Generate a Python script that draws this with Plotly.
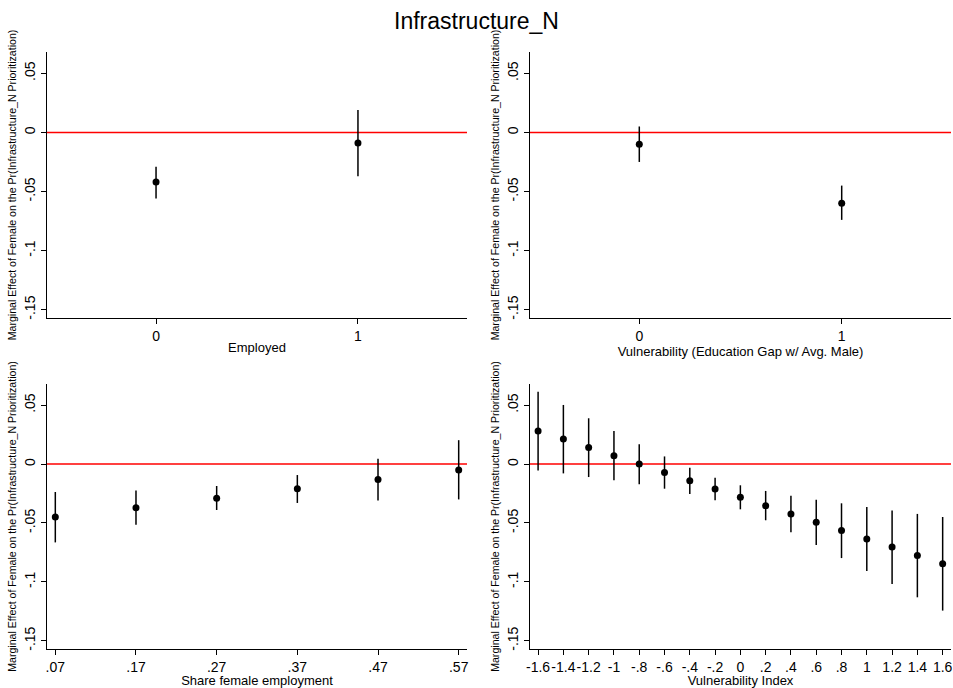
import plotly.graph_objects as go
from plotly.subplots import make_subplots

# ---- data ----
emp_x = [0, 1]
emp_y = [-0.042, -0.009]
emp_lo = [-0.056, -0.037]
emp_hi = [-0.029, 0.019]

vul_x = [0, 1]
vul_y = [-0.010, -0.060]
vul_lo = [-0.025, -0.074]
vul_hi = [0.005, -0.045]

share_x = [0.07, 0.17, 0.27, 0.37, 0.47, 0.57]
share_y = [-0.045, -0.037, -0.029, -0.021, -0.013, -0.005]
share_lo = [-0.0665, -0.0515, -0.039, -0.033, -0.031, -0.030]
share_hi = [-0.0237, -0.0225, -0.0186, -0.0093, 0.0045, 0.0203]
share_ticks = [".07", ".17", ".27", ".37", ".47", ".57"]

vi_x = [-1.6, -1.4, -1.2, -1.0, -0.8, -0.6, -0.4, -0.2, 0.0, 0.2, 0.4, 0.6, 0.8, 1.0, 1.2, 1.4, 1.6]
vi_y = [0.0282, 0.0212, 0.0141, 0.0071, 0.0, -0.0071, -0.0141, -0.0212, -0.0282,
        -0.0353, -0.0423, -0.0494, -0.0564, -0.0635, -0.0705, -0.0776, -0.0846]
vi_lo = [-0.0054, -0.0079, -0.011, -0.0138, -0.0172, -0.0209, -0.0254, -0.0307, -0.0384,
         -0.0477, -0.0578, -0.0688, -0.0798, -0.0908, -0.1018, -0.1131, -0.1244]
vi_hi = [0.0615, 0.0502, 0.0389, 0.0282, 0.0169, 0.0065, -0.0031, -0.0116, -0.018,
         -0.0228, -0.0268, -0.0302, -0.0333, -0.0364, -0.0395, -0.0423, -0.0449]
vi_ticks = ["-1.6", "-1.4", "-1.2", "-1", "-.8", "-.6", "-.4", "-.2", "0",
            ".2", ".4", ".6", ".8", "1", "1.2", "1.4", "1.6"]

y_tickvals = [0.05, 0, -0.05, -0.1, -0.15]
y_ticktext = [".05", "0", "-.05", "-.1", "-.15"]

title_text = "Infrastructure_N"
ytitle = "Marginal Effect of Female on the Pr(Infrastructure_N Prioritization)"
xtitles = ["Employed", "Vulnerability (Education Gap w/ Avg. Male)",
           "Share female employment", "Vulnerability Index"]

FONT = "Liberation Sans, Arial, Helvetica, sans-serif"

fig = make_subplots(rows=2, cols=2)

panels = [
    (emp_x, emp_y, emp_lo, emp_hi, 1, 1),
    (vul_x, vul_y, vul_lo, vul_hi, 1, 2),
    (share_x, share_y, share_lo, share_hi, 2, 1),
    (vi_x, vi_y, vi_lo, vi_hi, 2, 2),
]

for xs, ys, lo, hi, r, c in panels:
    fig.add_trace(go.Scatter(
        x=xs, y=ys, mode="markers",
        marker=dict(color="black", size=7),
        error_y=dict(type="data", symmetric=False,
                     array=[h - v for h, v in zip(hi, ys)],
                     arrayminus=[v - l for v, l in zip(ys, lo)],
                     color="black", thickness=1.5, width=0),
        showlegend=False, hoverinfo="x+y"), row=r, col=c)

W, H = 953, 688
xdom_left = [47 / W, 467 / W]
xdom_right = [530 / W, 951 / W]
ydom_top = [1 - 318 / H, 1 - 52 / H]
ydom_bot = [1 - 649 / H, 1 - 384 / H]

doms = [(xdom_left, ydom_top), (xdom_right, ydom_top), (xdom_left, ydom_bot), (xdom_right, ydom_bot)]
xranges = [[-0.54, 1.54], [-0.54, 1.54], [0.0597, 0.5803], [-1.664, 1.666]]
xticks = [([0, 1], ["0", "1"]), ([0, 1], ["0", "1"]),
          (share_x, share_ticks), (vi_x, vi_ticks)]

for i in range(4):
    ax = "" if i == 0 else str(i + 1)
    fig.layout["xaxis" + ax].update(
        domain=doms[i][0], range=xranges[i], automargin=False,
        tickmode="array", tickvals=xticks[i][0], ticktext=xticks[i][1], tickangle=0,
        showline=True, linecolor="black", linewidth=1, mirror=False,
        ticks="outside", ticklen=5, tickcolor="black", showgrid=False, zeroline=False,
        tickfont=dict(family=FONT, size=14, color="black"),
        title=dict(text=xtitles[i], font=dict(family=FONT, size=13, color="black"), standoff=0),
    )
    fig.layout["yaxis" + ax].update(
        domain=doms[i][1], range=[-0.157, 0.068], automargin=False,
        tickmode="array", tickvals=y_tickvals, ticktext=y_ticktext, tickangle=-90,
        showline=True, linecolor="black", linewidth=1, mirror=False,
        ticks="outside", ticklen=5, tickcolor="black", showgrid=False, zeroline=False,
        tickfont=dict(family=FONT, size=14, color="black"),
        title=dict(text=ytitle, font=dict(family=FONT, size=10.6, color="black"), standoff=3),
    )
    fig.add_shape(type="line", xref=("x" + ax) + " domain", yref="y" + ax,
                  x0=0, x1=1, y0=0, y1=0, line=dict(color="red", width=1.5), layer="below")

fig.update_layout(
    width=W, height=H,
    margin=dict(l=0, r=0, t=0, b=0),
    paper_bgcolor="white", plot_bgcolor="white",
    title=dict(text=title_text, x=0.5, xanchor="center", y=1 - 21 / H, yanchor="middle",
               font=dict(family=FONT, size=23, color="black")),
    font=dict(family=FONT, color="black"),
)

fig.write_html("out.html")
